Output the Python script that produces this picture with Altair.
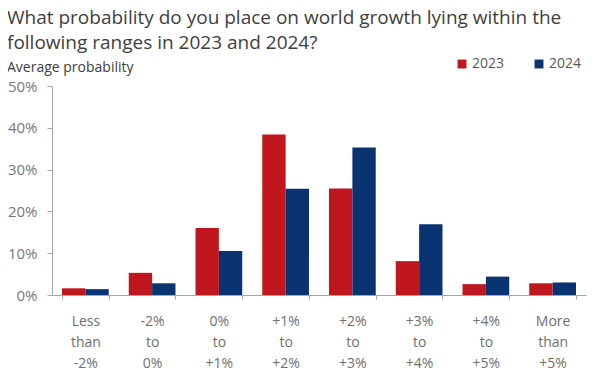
import altair as alt
import pandas as pd

categories = ["Less than -2%", "-2% to 0%", "0% to +1%", "+1% to +2%",
              "+2% to +3%", "+3% to +4%", "+4% to +5%", "More than +5%"]
v2023 = [1.6, 5.3, 16.0, 38.4, 25.5, 8.1, 2.6, 2.8]
v2024 = [1.4, 2.8, 10.5, 25.4, 35.3, 16.9, 4.4, 3.0]
years = ["2023", "2024"]
colors = ["#C0171F", "#0A3471"]

rows = []
for c, a, b in zip(categories, v2023, v2024):
    rows.append({"cat": c, "year": "2023", "val": a})
    rows.append({"cat": c, "year": "2024", "val": b})
df = pd.DataFrame(rows)

FONT = "Open Sans"

chart = alt.Chart(df).mark_bar().encode(
    x=alt.X("cat:N", sort=categories, title=None,
            scale=alt.Scale(paddingInner=0.3, paddingOuter=0.15),
            axis=alt.Axis(labelAngle=0,
                          labelExpr="isValid(datum.value) ? split(datum.value, ' ') : ''",
                          tickBand="extent", tickSize=4, labelPadding=15,
                          labelLineHeight=21, labelFontSize=14, labelColor="#707070",
                          domainColor="#A6A6A6", tickColor="#A6A6A6", labelFont=FONT,
                          labelBaseline="top")),
    xOffset=alt.XOffset("year:N", sort=years, scale=alt.Scale(paddingInner=0, paddingOuter=0)),
    y=alt.Y("val:Q", title=None,
            scale=alt.Scale(domain=[0, 50], nice=False),
            axis=alt.Axis(values=[0, 10, 20, 30, 40, 50], labelExpr="datum.value + '%'",
                          grid=False, tickSize=5, labelPadding=10, labelFontSize=15,
                          labelColor="#777777", domainColor="#A6A6A6", tickColor="#A6A6A6",
                          labelFont=FONT)),
    color=alt.Color("year:N", sort=years, scale=alt.Scale(domain=years, range=colors),
                    legend=alt.Legend(title=None, orient="none", direction="horizontal",
                                      legendX=403, legendY=-29, symbolType="square",
                                      symbolSize=80, symbolStrokeWidth=0, labelFontSize=14,
                                      labelColor="#595959", labelFont=FONT,
                                      columnPadding=27, labelOffset=3)),
).properties(
    width=534, height=209,
    title=alt.TitleParams(
        text=["What probability do you place on world growth lying within the",
              "following ranges in 2023 and 2024?"],
        subtitle="Average probability",
        anchor="start", frame="group", dx=-45, offset=-18,
        font=FONT, fontSize=19, fontWeight="normal", color="#404040", lineHeight=25,
        subtitleFont=FONT, subtitleFontSize=14, subtitleColor="#404040", subtitlePadding=8,
    ),
    padding={"left": 44, "top": 78, "right": 6, "bottom": 88},
    autosize=alt.AutoSizeParams(type="none"),
).configure_view(stroke=None)

chart.save("out.html", embed_options={"renderer": "svg", "actions": False})
